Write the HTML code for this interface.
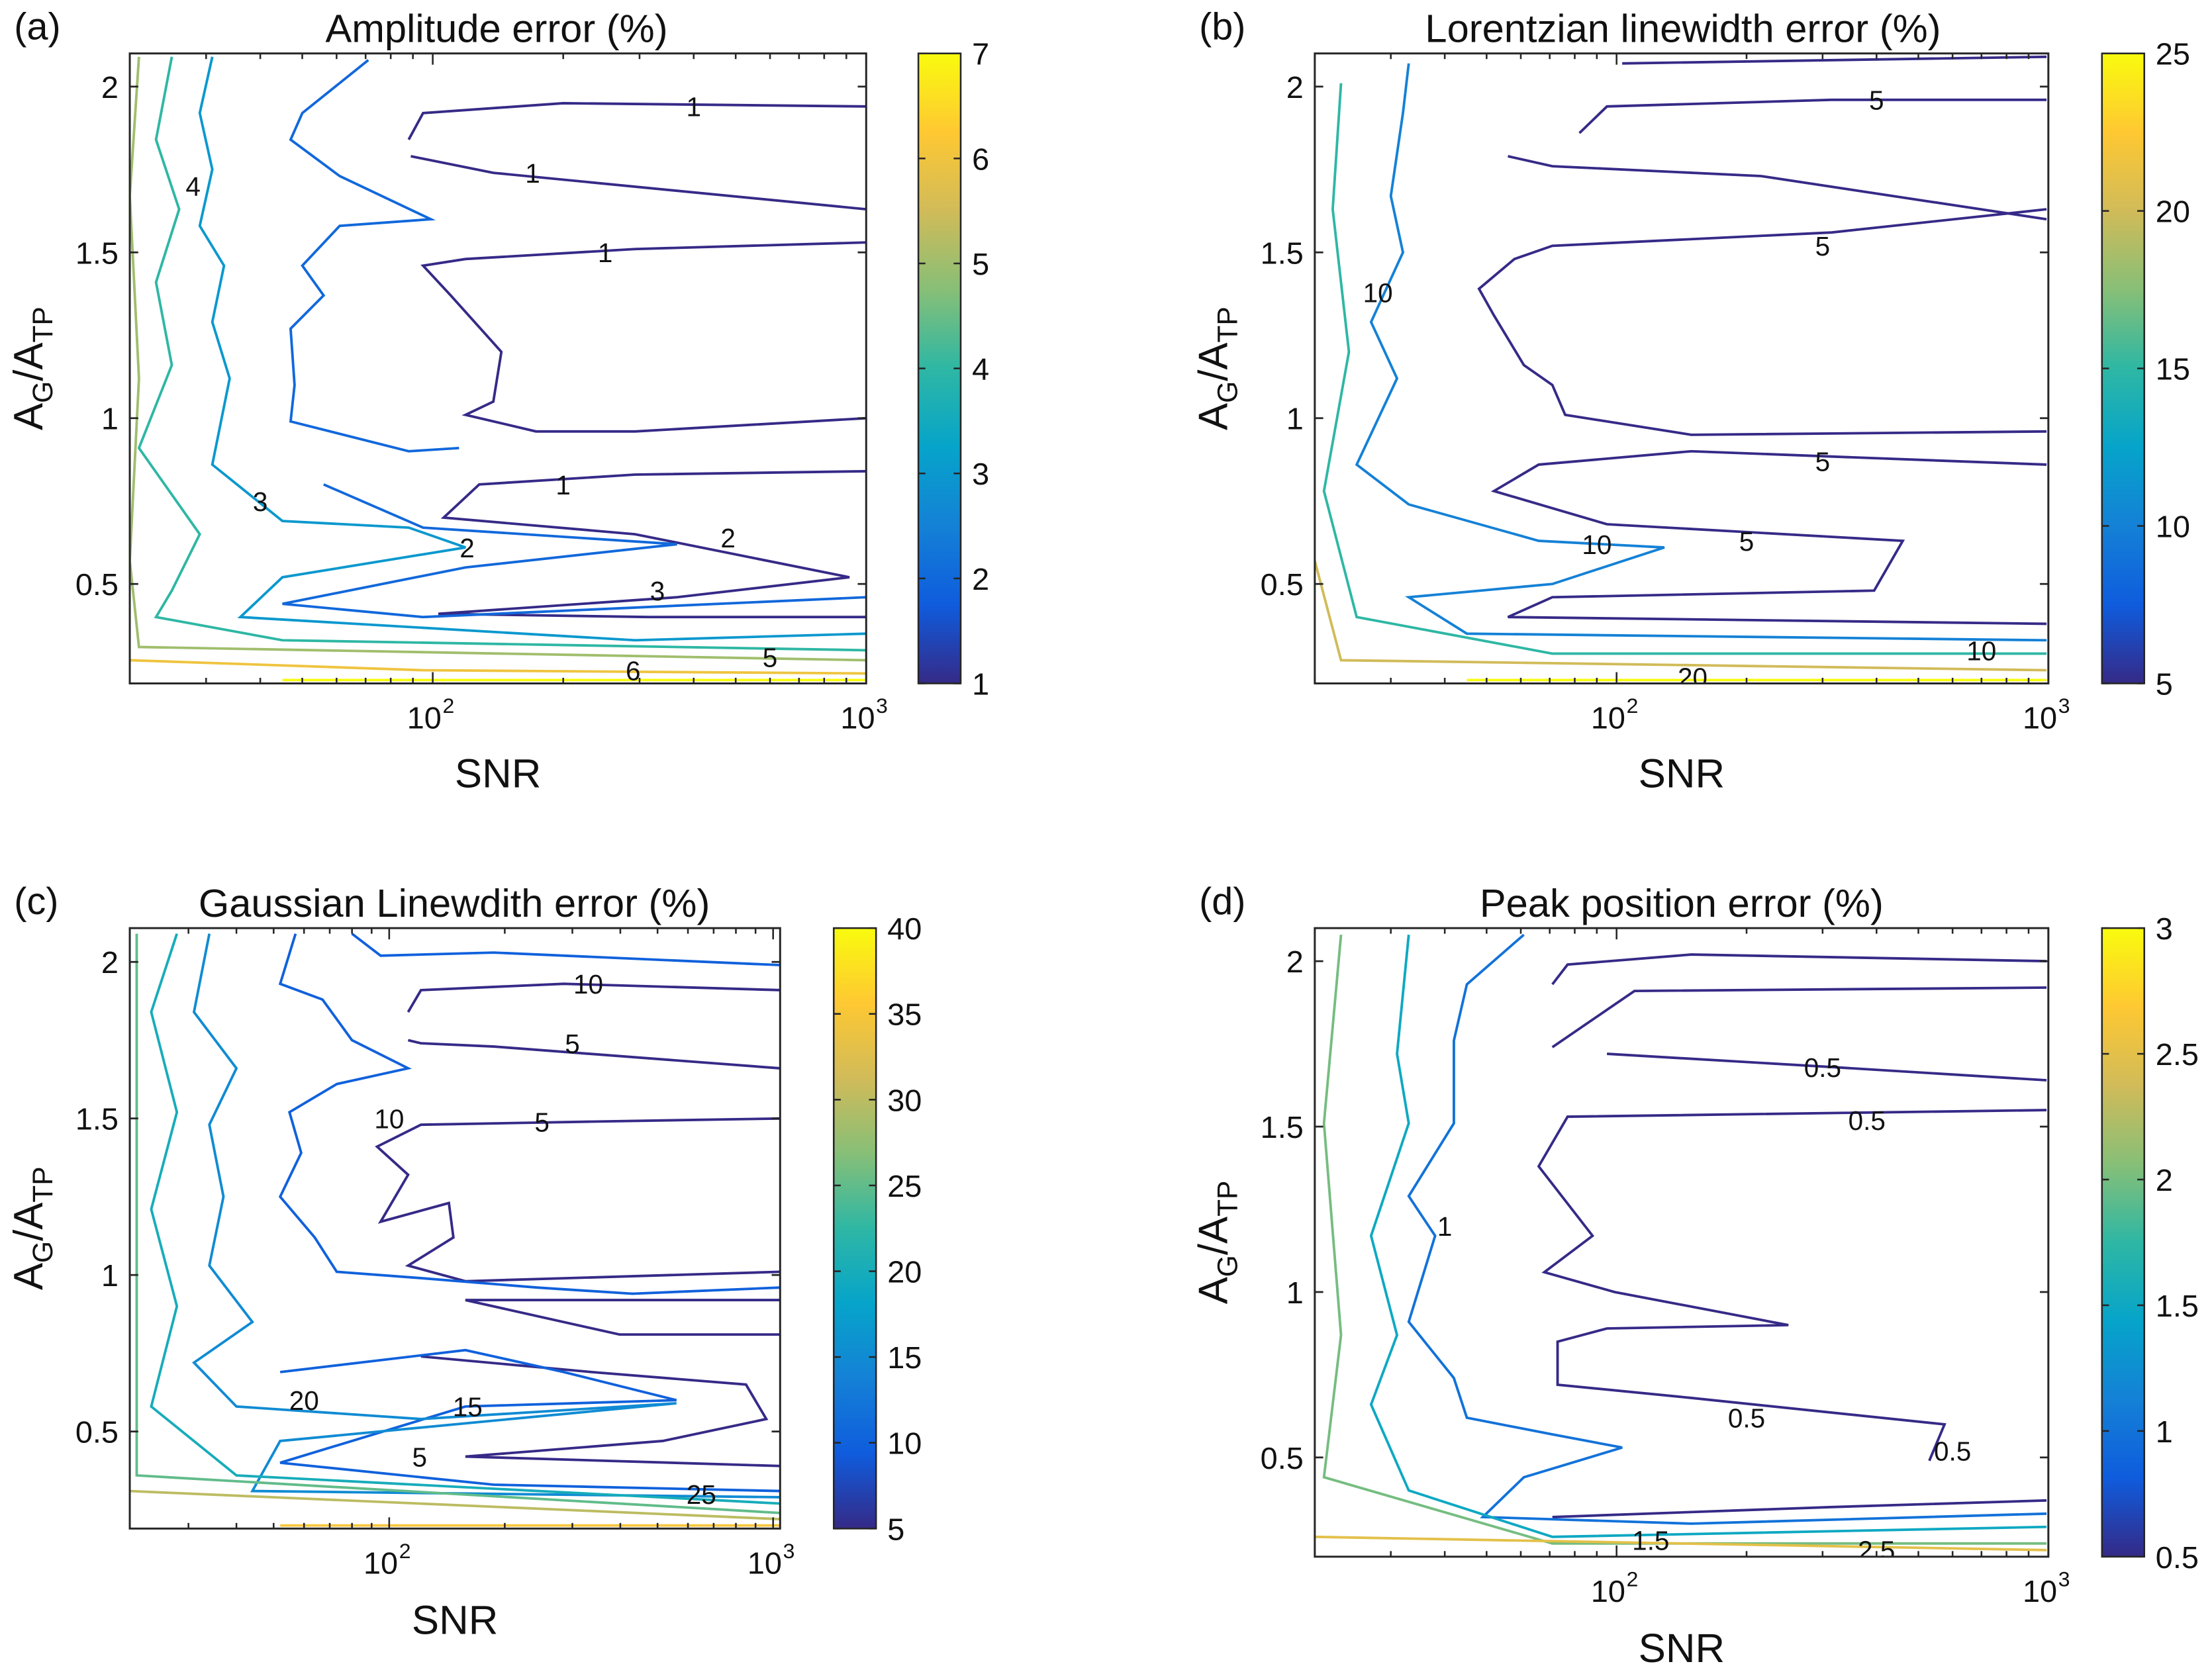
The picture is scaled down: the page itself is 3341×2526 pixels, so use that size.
<!DOCTYPE html>
<html><head><meta charset="utf-8">
<style>
html,body{margin:0;padding:0;background:#fff;}
svg{display:block;}
text{font-family:"Liberation Sans",Arial,sans-serif;fill:#111;}
</style></head>
<body>
<svg id="fig" xmlns="http://www.w3.org/2000/svg" width="3341" height="2526" viewBox="0 0 1568 1189" preserveAspectRatio="none">
<defs>
<linearGradient id="parula" x1="0" y1="1" x2="0" y2="0">
<stop offset="0" stop-color="#352a87"/><stop offset="0.125" stop-color="#0f5cdd"/>
<stop offset="0.25" stop-color="#1481d6"/><stop offset="0.375" stop-color="#06a4ca"/>
<stop offset="0.5" stop-color="#2eb7a4"/><stop offset="0.625" stop-color="#87bf77"/>
<stop offset="0.75" stop-color="#d1bb59"/><stop offset="0.875" stop-color="#fec832"/>
<stop offset="1" stop-color="#f9fb0e"/></linearGradient>
</defs>
</svg>
<script>
// ---- data (SNR, A_G/A_TP) ----
const yTicks=[0.5,1,1.5,2];
const xMajor=[100,1000];
const cbTicksA=[1,2,3,4,5,6,7];
const cbTicksB=[5,10,15,20,25];
const cbTicksC=[5,10,15,20,25,30,35,40];
const cbTicksD=[0.5,1,1.5,2,2.5,3];
// panel a contours
const aSnr=[
[88,95,200,1000],[89,138,1000],
[1000,293,119,95,110,144,138,119,173,293,1000],
[1000,293,128,106,293,915,366,103,315,1000],
[71,50,47,61,99,61,50,56,47,48,47,88,115],
[56,95,366,119,45,95,1000],
[31,29,31,29,33,31,34,31,45,88,119,45,36,293,1000],
[25,23,26,23,25,21,29,25,23,45,1000],
[21,20,21,20,21,1000],[20,95,1000],[45,1000]];
const aRatio=[
[1.84,1.92,1.95,1.94],[1.79,1.74,1.63],
[1.53,1.51,1.48,1.46,1.37,1.20,1.05,1.01,0.96,0.96,1.0],
[0.84,0.83,0.80,0.70,0.65,0.52,0.46,0.41,0.40,0.40],
[2.08,1.92,1.84,1.73,1.60,1.58,1.46,1.37,1.27,1.10,0.99,0.90,0.91],
[0.80,0.67,0.62,0.55,0.44,0.40,0.46],
[2.09,1.92,1.75,1.58,1.46,1.29,1.12,0.86,0.69,0.67,0.61,0.52,0.40,0.33,0.35],
[2.09,1.84,1.63,1.41,1.16,0.91,0.65,0.48,0.40,0.33,0.30],
[2.09,1.67,1.12,0.57,0.31,0.27],[0.27,0.24,0.23],[0.21,0.21]];
const aLvl=[1,1,1,1,2,2,3,4,5,6,7];
// panel b
const bLvl=[5,5,5,5,5,10,15,20,25];
const bSnr=[[103,990],[82,95,315,990],[56,71,216,990],
[990,315,71,58,48,52,61,71,76,149,990],
[990,149,66,52,95,460,395,71,56,990],
[33,32,30,32,27,31,25,33,66,129,71,33,45,990],
[23,22,24,21,25,71,990],[20,23,990],[45,990]];
const bRatio=[[2.07,2.09],[1.86,1.94,1.96,1.96],[1.79,1.76,1.73,1.60],
[1.63,1.56,1.52,1.48,1.39,1.31,1.16,1.10,1.01,0.95,0.96],
[0.86,0.90,0.86,0.78,0.68,0.63,0.48,0.46,0.40,0.38],
[2.07,1.92,1.67,1.50,1.29,1.12,0.86,0.74,0.63,0.61,0.50,0.46,0.35,0.33],
[2.01,1.63,1.20,0.78,0.40,0.29,0.29],[0.57,0.27,0.24],[0.21,0.21]];
// panel c
const cLvl=[5,5,5,5,5,10,10,10,15,20,25,30,35];
const cSnr=[[112,121,285,1043],[112,121,187,1043],
[1043,337,121,93,112,95,143,147,112,158,1043],
[1043,158,398,1043],[121,337,850,960,516,158,1043],
[80,95,187,1043],
[57,52,67,80,112,73,55,59,52,64,73,121,243,430,1043],
[52,158,285,560,158,52,187,1043],
[34,31,40,34,37,34,44,31,40,121,560,52,44,1043],
[28,24,28,24,28,24,40,1043],[22,22,22,22,1043],[21,1043],[52,1043]];
const cRatio=[[1.84,1.91,1.93,1.91],[1.75,1.74,1.73,1.66],
[1.50,1.49,1.48,1.41,1.32,1.17,1.23,1.12,1.03,0.98,1.01],
[0.92,0.92,0.81,0.81],[0.74,0.69,0.65,0.54,0.47,0.42,0.39],
[2.09,2.02,2.03,1.99],
[2.09,1.93,1.88,1.75,1.66,1.61,1.52,1.39,1.25,1.12,1.01,0.99,0.96,0.94,0.96],
[0.69,0.76,0.69,0.60,0.58,0.40,0.33,0.31],
[2.09,1.84,1.66,1.48,1.25,1.03,0.85,0.72,0.58,0.54,0.59,0.47,0.31,0.29],
[2.09,1.84,1.52,1.21,0.90,0.58,0.36,0.27],[2.09,1.48,0.81,0.36,0.24],[0.31,0.22],[0.20,0.20]];
// panel d
const dLvl=[0.5,0.5,0.5,0.5,0.5,1,1.5,2,2.5];
const dSnr=[[71,77,149,990],[71,110,990],[95,315,990],
[990,77,66,88,68,99,250,95,73,73,149,575,530],
[71,315,990],
[61,45,42,42,33,38,33,42,45,71,103,61,49,149,990],
[33,31,33,27,31,27,33,71,990],[23,21,23,21,71,990],[20,990]];
const dRatio=[[1.93,1.99,2.02,2.00],[1.74,1.91,1.92],[1.72,1.68,1.64],
[1.55,1.53,1.38,1.17,1.06,1.00,0.90,0.89,0.85,0.72,0.68,0.60,0.49],
[0.32,0.35,0.37],
[2.08,1.93,1.76,1.51,1.29,1.17,0.91,0.74,0.62,0.57,0.53,0.44,0.32,0.30,0.33],
[2.08,1.72,1.51,1.17,0.87,0.66,0.40,0.26,0.29],[2.08,1.51,0.87,0.44,0.24,0.24],[0.26,0.22]];
// contour labels: snr, ratio, text
const aLab=[[400,1.94,"1"],[170,1.74,"1"],[250,1.50,"1"],[200,0.80,"1"],[480,0.64,"2"],[120,0.61,"2"],[330,0.48,"3"],[40,0.75,"3"],[28,1.7,"4"],[600,0.28,"5"],[290,0.24,"6"]];
const bLab=[[400,1.96,"5"],[300,1.52,"5"],[300,0.87,"5"],[200,0.63,"5"],[90,0.62,"10"],[700,0.30,"10"],[150,0.22,"20"],[28,1.38,"10"]];
const cLab=[[330,1.93,"10"],[300,1.74,"5"],[250,1.49,"5"],[100,1.5,"10"],[160,0.58,"15"],[120,0.42,"5"],[650,0.30,"25"],[60,0.6,"20"]];
const dLab=[[300,1.68,"0.5"],[380,1.52,"0.5"],[200,0.62,"0.5"],[600,0.52,"0.5"],[40,1.2,"1"],[120,0.25,"1.5"],[400,0.22,"2.5"]];

const NS="http://www.w3.org/2000/svg";
const svg=document.getElementById('fig');
function mk(tag,attrs,parent){const e=document.createElementNS(NS,tag);for(const k in attrs)e.setAttribute(k,attrs[k]);(parent||svg).appendChild(e);return e;}
const stops=[[0,[53,42,135]],[0.125,[15,92,221]],[0.25,[20,129,214]],[0.375,[6,164,202]],[0.5,[46,183,164]],[0.625,[135,191,119]],[0.75,[209,187,89]],[0.875,[254,200,50]],[1,[249,251,14]]];
function parula(t){t=Math.max(0,Math.min(1,t));for(let i=1;i<stops.length;i++){if(t<=stops[i][0]){const a=stops[i-1],b=stops[i];const f=(t-a[0])/(b[0]-a[0]);const c=a[1].map((v,j)=>Math.round(v+(b[1][j]-v)*f));return `rgb(${c})`;}}return 'rgb(249,251,14)';}

function panel(o){
  const g=mk('g',{});
  
  
  const L=o.x0,R=o.x1,T=o.y0,B=o.y1;
  const lx0=Math.log10(o.xd[0]),lx1=Math.log10(o.xd[1]);
  const X=v=>L+(Math.log10(v)-lx0)/(lx1-lx0)*(R-L);
  const Y=v=>B-(v-o.yd[0])/(o.yd[1]-o.yd[0])*(B-T);
  const cp=mk('clipPath',{id:'clip'+o.id},g);mk('rect',{x:L,y:T,width:R-L,height:B-T},cp);
  const cg=mk('g',{'clip-path':'url(#clip'+o.id+')'},g);
  o.snr.forEach((s,i)=>{
    const pts=s.map((v,j)=>X(v).toFixed(1)+','+Y(o.ratio[i][j]).toFixed(1)).join(' ');
    const p=mk('polyline',{points:pts,fill:'none',stroke:parula((o.lvl[i]-o.cb[0])/(o.cb[1]-o.cb[0])),'stroke-width':1.8},cg);
    
    
  });
  o.lab.forEach(l=>{
    const t=mk('text',{x:X(l[0]),y:Y(l[1])+7,'font-size':19,'text-anchor':'middle'},cg);
    t.textContent=l[2];
    
    
  });
  const box=mk('rect',{x:L,y:T,width:R-L,height:B-T,fill:'none',stroke:'#262626','stroke-width':1.4},g);
  
  
  yTicks.forEach(v=>{const y=Y(v);
    mk('line',{x1:L,x2:L+6,y1:y,y2:y,stroke:'#262626','stroke-width':1.3},g);
    mk('line',{x1:R,x2:R-6,y1:y,y2:y,stroke:'#262626','stroke-width':1.3},g);
    const t=mk('text',{x:L-8,y:y+8,'font-size':22,'text-anchor':'end'},g);t.textContent=String(v);
    
    });
  for(let d=10;d<=1000;d*=10)for(let k=1;k<10;k++){const v=d*k;if(v<o.xd[0]||v>o.xd[1])continue;const x=X(v);const len=k===1?8:4;
    mk('line',{x1:x,x2:x,y1:B,y2:B-len,stroke:'#262626','stroke-width':1.2},g);
    mk('line',{x1:x,x2:x,y1:T,y2:T+len,stroke:'#262626','stroke-width':1.2},g);}
  xMajor.forEach(v=>{const x=X(v);
    const t=mk('text',{x:x-6,y:B+32,'font-size':22,'text-anchor':'middle'},g);
    
    
    t.textContent='10';
    const s=mk('text',{x:x+7,y:B+21,'font-size':15,'text-anchor':'start'},g);s.textContent=String(Math.round(Math.log10(v)));});
  const xl=mk('text',{x:(L+R)/2,y:o.xly,'font-size':29,'text-anchor':'middle'},g);xl.textContent='SNR';
  
  
  const cy=(T+B)/2;
  const yl=mk('text',{x:0,y:0,'font-size':29,'text-anchor':'middle',transform:`translate(${L-62},${cy}) rotate(-90)`},g);
  yl.innerHTML='A<tspan font-size="20" dy="7">G</tspan><tspan dy="-7">/A</tspan><tspan font-size="20" dy="7">TP</tspan>';
  
  
  const ti=mk('text',{x:o.tx,y:T-8,'font-size':28,'text-anchor':'middle'},g);ti.textContent=o.title;
  
  
  const pl=mk('text',{x:L-82,y:T-10,'font-size':27},g);pl.textContent='('+o.id+')';
  
  
  const cbg=mk('g',{},g);
  
  
  mk('rect',{x:o.cbx,y:T,width:30,height:B-T,fill:'url(#parula)',stroke:'#262626','stroke-width':1.2},cbg);
  o.cbt.forEach(v=>{const y=B-(v-o.cb[0])/(o.cb[1]-o.cb[0])*(B-T);
    mk('line',{x1:o.cbx+30,x2:o.cbx+25,y1:y,y2:y,stroke:'#262626','stroke-width':1.2},cbg);
    mk('line',{x1:o.cbx,x2:o.cbx+5,y1:y,y2:y,stroke:'#262626','stroke-width':1.2},cbg);
    const t=mk('text',{x:o.cbx+38,y:y+8,'font-size':22},cbg);t.textContent=String(v);
    
    });
}
panel({id:'a',x0:92,x1:614,y0:38,y1:486,xd:[20,1000],yd:[0.2,2.1],snr:aSnr,ratio:aRatio,lvl:aLvl,lab:aLab,cb:[1,7],cbt:cbTicksA,cbx:651,title:'Amplitude error (%)',tx:352,xly:560});
panel({id:'b',x0:932,x1:1452,y0:38,y1:486,xd:[20,1000],yd:[0.2,2.1],snr:bSnr,ratio:bRatio,lvl:bLvl,lab:bLab,cb:[5,25],cbt:cbTicksB,cbx:1490,title:'Lorentzian linewidth error (%)',tx:1193,xly:560});
panel({id:'c',x0:92,x1:553,y0:660,y1:1087,xd:[21.1,1043],yd:[0.19,2.108],snr:cSnr,ratio:cRatio,lvl:cLvl,lab:cLab,cb:[5,40],cbt:cbTicksC,cbx:591,title:'Gaussian Linewdith error (%)',tx:322,xly:1162});
panel({id:'d',x0:932,x1:1452,y0:660,y1:1107,xd:[20,1000],yd:[0.2,2.1],snr:dSnr,ratio:dRatio,lvl:dLvl,lab:dLab,cb:[0.5,3],cbt:cbTicksD,cbx:1490,title:'Peak position error (%)',tx:1192,xly:1182});
</script>
</body></html>
